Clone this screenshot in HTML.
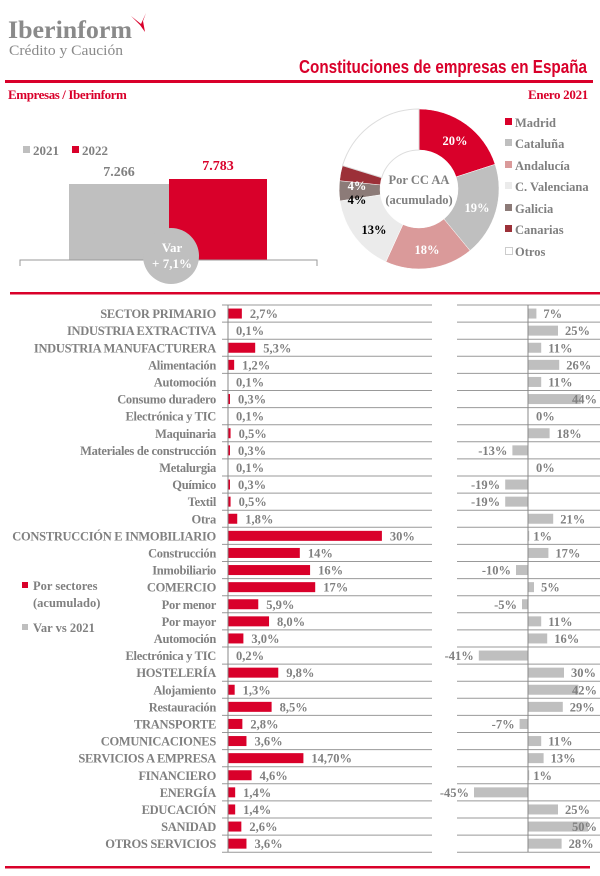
<!DOCTYPE html>
<html><head><meta charset="utf-8"><style>
body{margin:0;background:#fff}
svg{display:block}
text{font-family:"Liberation Serif",serif;font-weight:bold}
</style></head><body>
<svg width="600" height="876" viewBox="0 0 600 876" xmlns="http://www.w3.org/2000/svg">
<text x="8" y="38" font-size="25" fill="#8a8a8a" textLength="124" lengthAdjust="spacingAndGlyphs">Iberinform</text>
<path d="M131 16 L141 24 L146 13 L143 21 L145 32 L140 25 Z" fill="#d9002a"/>
<text x="9" y="55" font-size="15" fill="#8a8a8a" style="font-weight:normal" textLength="114" lengthAdjust="spacingAndGlyphs">Crédito y Caución</text>
<text x="587" y="73" font-size="18.5" fill="#d9002a" text-anchor="end" style="font-family:'Liberation Sans',sans-serif" textLength="288" lengthAdjust="spacingAndGlyphs">Constituciones de empresas en España</text>
<rect x="5" y="80" width="588" height="3" fill="#d9002a"/>
<text x="8" y="99" font-size="13" fill="#d9002a" letter-spacing="-0.4">Empresas / Iberinform</text>
<text x="588" y="99" font-size="13" fill="#d9002a" text-anchor="end" letter-spacing="-0.3">Enero  2021</text>
<rect x="23" y="146" width="7" height="7" fill="#bfbfbf"/><text x="33" y="155" font-size="13" fill="#808080">2021</text>
<rect x="72" y="146" width="7" height="7" fill="#d9002a"/><text x="82" y="155" font-size="13" fill="#808080">2022</text>
<rect x="69" y="184" width="100" height="76" fill="#bfbfbf"/>
<rect x="169" y="179" width="98" height="81" fill="#d9002a"/>
<text x="119" y="176" font-size="14" fill="#808080" text-anchor="middle">7.266</text>
<text x="218" y="170" font-size="14" fill="#d9002a" text-anchor="middle">7.783</text>
<path d="M20 266 V260 H317 V266" fill="none" stroke="#999" stroke-width="1"/>
<circle cx="171" cy="256" r="28" fill="#bfbfbf"/>
<text x="172" y="252" font-size="13" fill="#fff" text-anchor="middle">Var</text>
<text x="172" y="268" font-size="13" fill="#fff" text-anchor="middle">+ 7,1%</text>
<g transform="translate(419,189)" stroke="#fff" stroke-width="0.5">
<path d="M0,-80 A80,80 0 0 1 76.1,-24.7 L37.1,-12.1 A39,39 0 0 0 0,-39 Z" fill="#d9002a"/>
<path d="M76.1,-24.7 A80,80 0 0 1 51,61.6 L24.9,30 A39,39 0 0 0 37.1,-12.1 Z" fill="#bfbfbf"/>
<path d="M51,61.6 A80,80 0 0 1 -33.1,72.8 L-16.1,35.5 A39,39 0 0 0 24.9,30 Z" fill="#da9a9a"/>
<path d="M-33.1,72.8 A80,80 0 0 1 -79.1,11.9 L-38.6,5.8 A39,39 0 0 0 -16.1,35.5 Z" fill="#ebebeb"/>
<path d="M-79.1,11.9 A80,80 0 0 1 -79.4,-8.3 L-38.7,-4.1 A39,39 0 0 0 -38.6,5.8 Z" fill="#8c7b78"/>
<path d="M-79.4,-8.3 A80,80 0 0 1 -76.5,-23.4 L-37.3,-11.4 A39,39 0 0 0 -38.7,-4.1 Z" fill="#9c3038"/>
<path d="M-76.5,-23.4 A80,80 0 0 1 0,-80 L0,-39 A39,39 0 0 0 -37.3,-11.4 Z" fill="#fff" stroke="#ddd" stroke-width="1"/>
</g>
<text x="455" y="145" font-size="12.5" fill="#fff" text-anchor="middle">20%</text>
<text x="477" y="212" font-size="12.5" fill="#fff" text-anchor="middle">19%</text>
<text x="427" y="254" font-size="12.5" fill="#fff" text-anchor="middle">18%</text>
<text x="374" y="234" font-size="12.5" fill="#000" text-anchor="middle">13%</text>
<text x="357" y="204" font-size="12.5" fill="#000" text-anchor="middle">4%</text>
<text x="357" y="190" font-size="12.5" fill="#fff" text-anchor="middle">4%</text>
<text x="419" y="184" font-size="12.5" fill="#808080" text-anchor="middle">Por CC AA</text>
<text x="419" y="204" font-size="12.5" fill="#808080" text-anchor="middle">(acumulado)</text>
<g font-size="12.5" fill="#808080">
<rect x="505" y="118" width="7" height="7" fill="#d9002a"/><text x="515" y="127">Madrid</text>
<rect x="505" y="139" width="7" height="7" fill="#bfbfbf"/><text x="515" y="148">Cataluña</text>
<rect x="505" y="161" width="7" height="7" fill="#da9a9a"/><text x="515" y="170">Andalucía</text>
<rect x="505" y="182" width="7" height="7" fill="#ebebeb"/><text x="515" y="191">C. Valenciana</text>
<rect x="505" y="204" width="7" height="7" fill="#8c7b78"/><text x="515" y="213">Galicia</text>
<rect x="505" y="225" width="7" height="7" fill="#9c3038"/><text x="515" y="234">Canarias</text>
<rect x="505.5" y="247.5" width="7" height="7" fill="#fff" stroke="#ccc"/><text x="515" y="256">Otros</text>
</g>
<rect x="10" y="292" width="590" height="2.5" fill="#d9002a"/>
<rect x="22" y="582" width="6" height="6" fill="#d9002a"/>
<text x="33" y="590" font-size="12.5" fill="#808080">Por sectores</text>
<text x="33" y="607" font-size="12.5" fill="#808080">(acumulado)</text>
<rect x="22" y="624" width="6" height="6" fill="#bfbfbf"/>
<text x="33" y="632" font-size="12.5" fill="#808080">Var vs 2021</text>
<g id="rows" font-size="12.5" fill="#808080"></g>
<line x1="228" y1="305" x2="228" y2="852" stroke="#888" stroke-width="1"/>
<line x1="528" y1="305" x2="528" y2="852" stroke="#888" stroke-width="1"/>
<rect x="5" y="866" width="585" height="2.5" fill="#d9002a"/>
</svg>
<script>
var d=[["SECTOR PRIMARIO",2.7,"2,7%",7],["INDUSTRIA EXTRACTIVA",0.1,"0,1%",25],["INDUSTRIA MANUFACTURERA",5.3,"5,3%",11],["Alimentación",1.2,"1,2%",26],["Automoción",0.1,"0,1%",11],["Consumo duradero",0.3,"0,3%",44],["Electrónica y TIC",0.1,"0,1%",0],["Maquinaria",0.5,"0,5%",18],["Materiales de construcción",0.3,"0,3%",-13],["Metalurgia",0.1,"0,1%",0],["Químico",0.3,"0,3%",-19],["Textil",0.5,"0,5%",-19],["Otra",1.8,"1,8%",21],["CONSTRUCCIÓN E INMOBILIARIO",30,"30%",1],["Construcción",14,"14%",17],["Inmobiliario",16,"16%",-10],["COMERCIO",17,"17%",5],["Por menor",5.9,"5,9%",-5],["Por mayor",8.0,"8,0%",11],["Automoción",3.0,"3,0%",16],["Electrónica y TIC",0.2,"0,2%",-41],["HOSTELERÍA",9.8,"9,8%",30],["Alojamiento",1.3,"1,3%",42],["Restauración",8.5,"8,5%",29],["TRANSPORTE",2.8,"2,8%",-7],["COMUNICACIONES",3.6,"3,6%",11],["SERVICIOS A EMPRESA",14.7,"14,70%",13],["FINANCIERO",4.6,"4,6%",1],["ENERGÍA",1.4,"1,4%",-45],["EDUCACIÓN",1.4,"1,4%",25],["SANIDAD",2.6,"2,6%",50],["OTROS SERVICIOS",3.6,"3,6%",28]];
var h=17.1,T=305,o="";
for(var i=0;i<=32;i++){var y=T+i*h;o+='<line x1="222" y1="'+y+'" x2="432" y2="'+y+'" stroke="#999"/><line x1="457" y1="'+y+'" x2="600" y2="'+y+'" stroke="#999"/>';}
for(var i=0;i<d.length;i++){var r=d[i],c=T+i*h+h/2,ty=c+4.5;
o+='<text x="216" y="'+ty+'" text-anchor="end" letter-spacing="-0.3">'+r[0]+'</text>';
var w=r[1]*5.13;if(r[1]<0.25)w=0;else if(w<2)w=2;
if(w>0)o+='<rect x="228" y="'+(c-5)+'" width="'+w+'" height="10" fill="#d9002a"/>';
o+='<text x="'+(228+w+8)+'" y="'+ty+'">'+r[2]+'</text>';
var v=r[3],bw=Math.abs(v)*1.2;
if(v>0){o+='<rect x="528" y="'+(c-5)+'" width="'+bw+'" height="10" fill="#bfbfbf"/>';
 if(v>=40)o+='<text x="597" y="'+ty+'" text-anchor="end">'+v+'%</text>';
 else o+='<text x="'+(528+bw+(v<3?4:7))+'" y="'+ty+'">'+v+'%</text>';}
else if(v==0){o+='<text x="536" y="'+ty+'">0%</text>';}
else{o+='<rect x="'+(528-bw)+'" y="'+(c-5)+'" width="'+bw+'" height="10" fill="#bfbfbf"/>';
 o+='<text x="'+(528-bw-5)+'" y="'+ty+'" text-anchor="end">'+v+'%</text>';}
}
document.getElementById("rows").innerHTML=o;
</script>
</body></html>
